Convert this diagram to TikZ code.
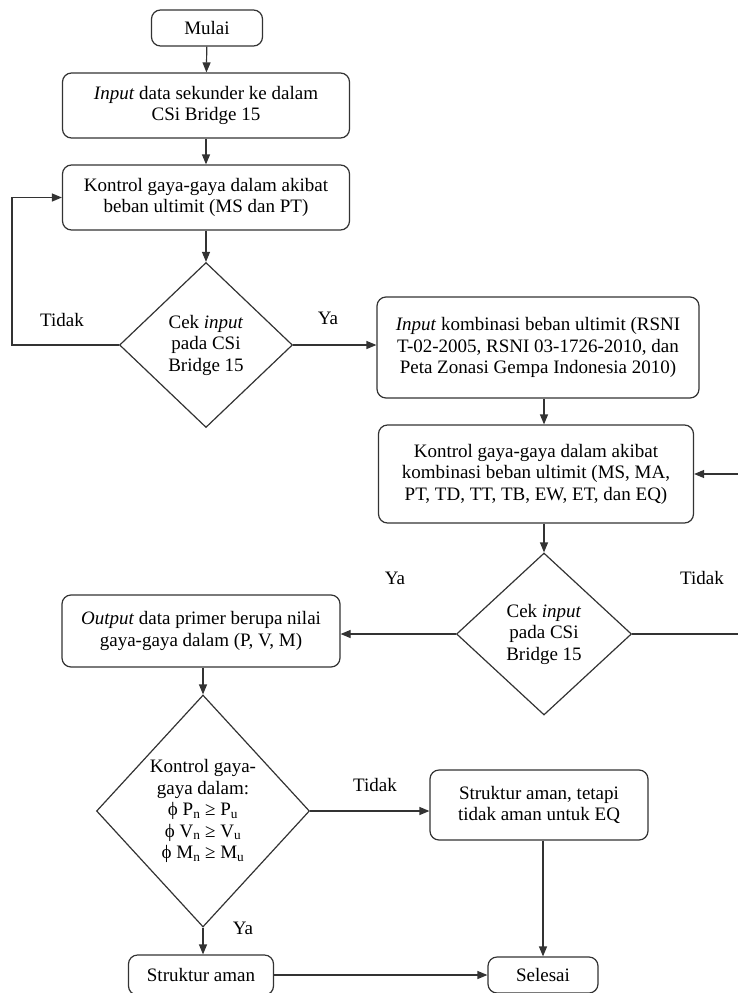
\documentclass[tikz,border=0pt]{standalone}
\usepackage{fontspec}
\setmainfont{Liberation Serif}
\usepackage{tikz}
\usetikzlibrary{positioning, shapes.geometric, arrows.meta}

\begin{document}
\begin{tikzpicture}[x=1pt, y=-1pt,
    font=\fontsize{19}{21.5}\selectfont,
    box/.style={draw=black!80, line width=1.2pt, rounded corners=9pt, align=center, inner sep=2pt},
    cek/.style={draw=black!80, line width=1.2pt, shape=diamond, align=center, inner sep=0pt},
    arr/.style={draw=black!80, line width=1.2pt, -{Triangle[length=10pt,width=8pt]}},
    garis/.style={draw=black!80, line width=1.2pt}]
  \useasboundingbox (0,0) rectangle (737,993);

  % Kolom kiri
  \node[box, minimum width=111, minimum height=36] (mulai) at (207,28) {Mulai};
  \node[box, minimum width=287, minimum height=65] (input1) at (206,105.5) {\textit{Input} data sekunder ke dalam\\CSi Bridge 15};
  \node[box, minimum width=287, minimum height=65] (kontrol1) at (206,197.5) {Kontrol gaya-gaya dalam akibat\\beban ultimit (MS dan PT)};
  \node[cek, minimum width=173, minimum height=165] (cek1) at (206,345) {Cek \textit{input}\\pada CSi\\Bridge 15};

  % Kolom kanan
  \node[box, minimum width=322, minimum height=101] (input2) at (538,347.5) {\textit{Input} kombinasi beban ultimit (RSNI\\T-02-2005, RSNI 03-1726-2010, dan\\Peta Zonasi Gempa Indonesia 2010)};
  \node[box, minimum width=315, minimum height=98] (kontrol2) at (536,474) {Kontrol gaya-gaya dalam akibat\\kombinasi beban ultimit (MS, MA,\\PT, TD, TT, TB, EW, ET, dan EQ)};
  \node[cek, minimum width=175, minimum height=162] (cek2) at (544,634) {Cek \textit{input}\\pada CSi\\Bridge 15};

  % Bagian bawah
  \node[box, minimum width=278, minimum height=72] (output) at (201,631) {\textit{Output} data primer berupa nilai\\gaya-gaya dalam (P, V, M)};
  \node[cek, minimum width=213, minimum height=232] (cek3) at (203,811) {Kontrol gaya-\\gaya dalam:\\ϕ P\textsubscript{n} ≥ P\textsubscript{u}\\ϕ V\textsubscript{n} ≥ V\textsubscript{u}\\ϕ M\textsubscript{n} ≥ M\textsubscript{u}};
  \node[box, minimum width=218, minimum height=70] (aman2) at (539,805) {Struktur aman, tetapi\\tidak aman untuk EQ};
  \node[box, minimum width=145, minimum height=40] (aman1) at (201,975) {Struktur aman};
  \node[box, minimum width=110, minimum height=36] (selesai) at (543,975) {Selesai};

  \coordinate (loopL) at (12,345);
  \coordinate (loopR) at (745,634);

  % Panah
  \draw[arr] (mulai) -- (input1);
  \draw[arr] (input1) -- (kontrol1);
  \draw[arr] (kontrol1) -- (cek1);
  \draw[arr] (cek1.west) -- (loopL) |- (kontrol1.west);
  \draw[arr] (cek1.east) -- (cek1.east -| input2.west);
  \draw[arr] (input2.south -| cek2.north) -- (kontrol2.north -| cek2.north);
  \draw[arr] (kontrol2.south -| cek2.north) -- (cek2.north);
  \draw[arr] (cek2.east) -- (loopR) |- (kontrol2.east);
  \draw[arr] (cek2.west) -- (cek2.west -| output.east);
  \draw[arr] (output.south -| cek3.north) -- (cek3.north);
  \draw[arr] (cek3.east) -- (cek3.east -| aman2.west);
  \draw[arr] (cek3.south) -- (cek3.south |- aman1.north);
  \draw[arr] (aman2.south -| selesai.north) -- (selesai.north);
  \draw[arr] (aman1.east) -- (selesai.west);

  % Label
  \node (tidak1) at (62,320) {Tidak};
  \node (ya1) at (328,318) {Ya};
  \node (ya2) at (395,578) {Ya};
  \node (tidak2) at (702,578) {Tidak};
  \node (tidak3) at (375,785) {Tidak};
  \node (ya3) at (243,928) {Ya};
\end{tikzpicture}
\end{document}
